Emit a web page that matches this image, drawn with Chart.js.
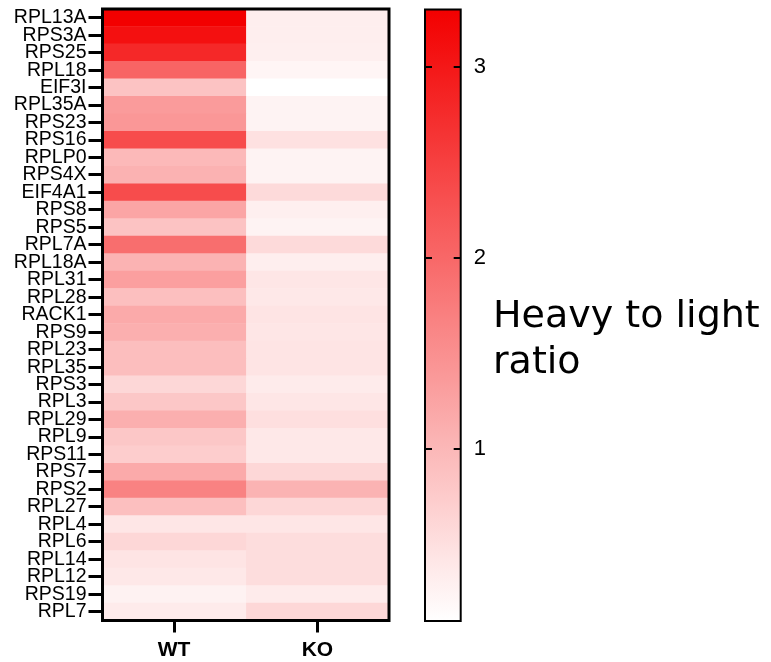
<!DOCTYPE html>
<html>
<head>
<meta charset="utf-8">
<script src="https://cdn.jsdelivr.net/npm/chart.js@4/dist/chart.umd.min.js"></script>
<style>
  html, body { margin: 0; padding: 0; background: #fff; }
  #wrap { position: relative; width: 771px; height: 662px; }
  #heat { position: absolute; left: 0; top: 0; }
  #bar { position: absolute; left: 410px; top: 0; }
</style>
</head>
<body>
<div id="wrap">
  <canvas id="heat" width="410" height="662"></canvas>
  <canvas id="bar" width="361" height="662"></canvas>
</div>
<script>
// Ribosomal / initiation factor proteins, top to bottom
const genes = ['RPL13A','RPS3A','RPS25','RPL18','EIF3I','RPL35A','RPS23','RPS16','RPLP0','RPS4X',
  'EIF4A1','RPS8','RPS5','RPL7A','RPL18A','RPL31','RPL28','RACK1','RPS9','RPL23',
  'RPL35','RPS3','RPL3','RPL29','RPL9','RPS11','RPS7','RPS2','RPL27','RPL4',
  'RPL6','RPL14','RPL12','RPS19','RPL7'];
const conditions = ['WT', 'KO'];

// Heavy-to-light ratio per protein
const wtRatio = [3.30,3.10,2.80,2.05,0.85,1.35,1.40,2.35,0.98,1.07,
  2.35,1.23,0.85,1.92,1.05,1.30,0.90,1.17,1.10,0.92,
  0.92,0.60,0.80,1.10,0.80,0.73,1.17,1.67,0.90,0.42,
  0.60,0.44,0.39,0.26,0.35];
const koRatio = [0.31,0.31,0.30,0.22,0.10,0.25,0.25,0.48,0.25,0.25,
  0.56,0.30,0.25,0.56,0.31,0.42,0.39,0.44,0.42,0.44,
  0.44,0.35,0.42,0.50,0.39,0.39,0.60,1.05,0.60,0.42,
  0.53,0.53,0.53,0.35,0.60];

// Colour scale
const scaleRange = [0.1, 3.3];
const scaleTicks = [1, 2, 3];
const scaleTitle = ['Heavy to light', 'ratio'];

function ratioColor(v) {
  let t = (v - scaleRange[0]) / (scaleRange[1] - scaleRange[0]);
  t = Math.max(0, Math.min(1, t));
  const r = Math.round(255 - 12 * t);
  const gb = Math.round(255 * (1 - t));
  return `rgb(${r},${gb},${gb})`;
}

const seriesValues = [wtRatio, koRatio];

function noEdgePadding(s) {
  s.paddingTop = 0;
  s.paddingBottom = 0;
}

const framePlugin = {
  id: 'frame',
  afterDatasetsDraw(chart, args, opts) {
    const { ctx, chartArea: a } = chart;
    ctx.save();
    ctx.strokeStyle = '#000';
    ctx.lineWidth = opts.width || 3;
    ctx.strokeRect(a.left, a.top, a.right - a.left, a.bottom - a.top);
    ctx.restore();
  }
};

new Chart(document.getElementById('heat'), {
  type: 'bar',
  data: {
    labels: genes,
    datasets: conditions.map((c, ci) => ({
      label: c,
      data: genes.map(() => [ci, ci + 1]),
      backgroundColor: (ctx) => ratioColor(seriesValues[ci][ctx.dataIndex]),
      borderWidth: 0,
      grouped: false,
      categoryPercentage: 1,
      barPercentage: 1
    }))
  },
  options: {
    indexAxis: 'y',
    responsive: false,
    animation: false,
    layout: { padding: { left: 0, top: 9, right: 21, bottom: 0 } },
    plugins: {
      legend: { display: false },
      tooltip: { enabled: false },
      frame: { width: 3 }
    },
    scales: {
      y: {
        type: 'category',
        offset: true,
        afterFit(s) { s.width = 102.5; noEdgePadding(s); },
        grid: { offset: false, drawOnChartArea: false, drawTicks: true, tickLength: 14, tickWidth: 3, tickColor: '#000' },
        border: { display: false },
        ticks: { autoSkip: false, padding: 2, color: '#000', font: { family: 'Liberation Sans, Arial', size: 19.5 } }
      },
      x: {
        type: 'linear',
        min: 0,
        max: conditions.length,
        afterFit(s) { s.height = 41.5; },
        afterBuildTicks(s) { s.ticks = conditions.map((c, i) => ({ value: i + 0.5 })); },
        grid: { drawOnChartArea: false, drawTicks: true, tickLength: 12, tickWidth: 3, tickColor: '#000' },
        border: { display: false },
        ticks: {
          padding: 5,
          color: '#000',
          font: { family: 'Liberation Sans, Arial', size: 21, weight: 'bold' },
          callback: (v) => conditions[Math.round(v - 0.5)]
        }
      }
    }
  },
  plugins: [framePlugin]
});

// Colour bar with inner tick marks and title
const colorbarPlugin = {
  id: 'colorbarDecor',
  afterDatasetsDraw(chart) {
    const { ctx, chartArea: a } = chart;
    const y = chart.scales.y;
    ctx.save();
    ctx.strokeStyle = '#000';
    ctx.lineWidth = 2;
    ctx.strokeRect(a.left, a.top, a.right - a.left, a.bottom - a.top);
    scaleTicks.forEach(t => {
      const py = Math.round(y.getPixelForValue(t));
      ctx.beginPath();
      ctx.moveTo(a.left, py); ctx.lineTo(a.left + 7, py);
      ctx.moveTo(a.right - 7, py); ctx.lineTo(a.right, py);
      ctx.stroke();
    });
    ctx.fillStyle = '#000';
    ctx.font = '38px "DejaVu Sans"';
    ctx.textAlign = 'left';
    ctx.textBaseline = 'alphabetic';
    scaleTitle.forEach((line, i) => ctx.fillText(line, 83, 327 + i * 46));
    ctx.restore();
  }
};

new Chart(document.getElementById('bar'), {
  type: 'bar',
  data: {
    labels: [''],
    datasets: [{
      data: [scaleRange],
      borderWidth: 0,
      categoryPercentage: 1,
      barPercentage: 1,
      backgroundColor: (ctx) => {
        const chart = ctx.chart;
        const a = chart.chartArea;
        if (!a) return ratioColor(scaleRange[1]);
        const ys = chart.scales.y;
        const g = chart.ctx.createLinearGradient(0, ys.getPixelForValue(scaleRange[0]), 0, ys.getPixelForValue(scaleRange[1]));
        const n = 10;
        for (let i = 0; i <= n; i++) {
          const v = scaleRange[0] + (scaleRange[1] - scaleRange[0]) * i / n;
          g.addColorStop(i / n, ratioColor(v));
        }
        return g;
      }
    }]
  },
  options: {
    responsive: false,
    animation: false,
    layout: { padding: { left: 15, top: 9.5, right: 0, bottom: 41 } },
    plugins: { legend: { display: false }, tooltip: { enabled: false } },
    scales: {
      x: { display: false },
      y: {
        position: 'right',
        min: scaleRange[0],
        max: scaleRange[1],
        afterFit(s) { s.width = 310.3; noEdgePadding(s); },
        afterBuildTicks(s) { s.ticks = scaleTicks.map(v => ({ value: v })); },
        grid: { display: false, drawTicks: false },
        border: { display: false },
        ticks: { padding: 13, color: '#000', font: { family: 'Liberation Sans, Arial', size: 22 } }
      }
    }
  },
  plugins: [colorbarPlugin]
});
</script>
</body>
</html>
